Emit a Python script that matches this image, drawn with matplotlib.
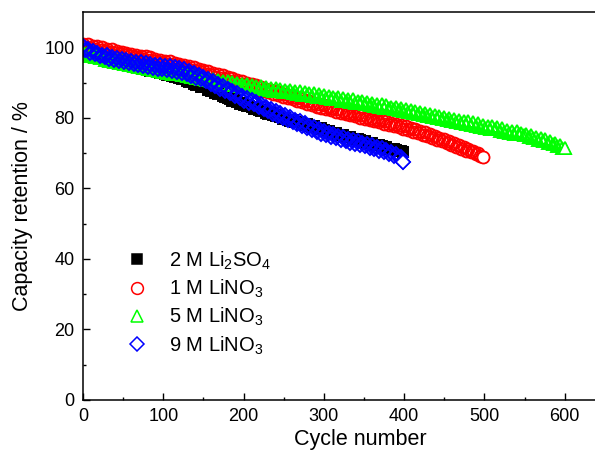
import matplotlib
matplotlib.use('Agg')
import matplotlib.pyplot as plt
import numpy as np

plt.rcParams['font.family'] = ['Liberation Sans', 'DejaVu Sans']
plt.rcParams['mathtext.default'] = 'regular'

# capacity retention (%) read every 3 cycles
step = 3
li2so4_2m = [
    99.0, 98.6, 98.1, 98.4, 97.8, 97.5, 97.9, 97.2, 97.0, 97.4,
    96.9, 96.6, 96.9, 96.2, 96.0, 96.3, 95.6, 95.4, 95.7, 95.0,
    94.9, 95.1, 94.5, 94.3, 94.6, 93.9, 93.7, 94.0, 93.4, 93.2,
    93.4, 92.9, 92.7, 93.0, 92.4, 92.2, 92.4, 91.8, 91.6, 91.8,
    91.3, 91.0, 91.2, 90.5, 90.2, 90.4, 89.7, 89.4, 89.5, 88.8,
    88.6, 88.7, 88.0, 87.6, 87.8, 87.1, 86.8, 86.9, 86.2, 85.8,
    85.7, 85.2, 84.8, 85.0, 84.4, 84.0, 84.2, 83.6, 83.3, 83.4,
    83.0, 82.6, 82.8, 82.2, 81.9, 82.1, 81.5, 81.2, 81.4, 80.8,
    80.5, 80.7, 80.1, 79.8, 80.0, 79.5, 79.2, 79.4, 78.9, 78.7,
    78.8, 78.3, 78.0, 78.2, 77.7, 77.4, 77.6, 77.1, 76.8, 77.0,
    76.5, 76.2, 76.4, 75.8, 75.6, 75.8, 75.2, 75.0, 75.2, 74.7,
    74.5, 74.7, 74.1, 73.9, 74.1, 73.6, 73.4, 73.5, 73.0, 72.8,
    72.9, 72.4, 72.2, 72.4, 71.9, 71.7, 71.8, 71.3, 71.1, 71.2,
    70.8, 70.6, 70.7, 70.3]
lino3_1m = [
    101.0, 100.2, 100.9, 99.8, 100.5, 99.6, 100.3, 99.2, 100.0, 99.0,
    99.6, 98.7, 99.4, 98.3, 99.0, 98.0, 98.8, 97.8, 98.5, 97.5,
    98.2, 97.2, 97.9, 97.0, 97.6, 96.6, 97.4, 96.4, 97.1, 96.1,
    96.8, 95.8, 96.5, 95.5, 96.2, 95.2, 96.0, 95.0, 95.6, 94.7,
    95.3, 94.3, 95.0, 94.0, 94.6, 93.6, 94.3, 93.2, 93.9, 92.9,
    93.6, 92.5, 93.2, 92.1, 92.8, 91.7, 92.4, 91.3, 92.0, 90.9,
    91.6, 90.5, 91.2, 90.1, 90.8, 89.7, 90.4, 89.3, 89.9, 88.9,
    89.6, 88.5, 89.2, 88.0, 88.8, 87.6, 88.3, 87.2, 87.9, 86.8,
    87.5, 86.4, 87.1, 86.0, 86.7, 85.6, 86.3, 85.2, 85.9, 84.8,
    85.5, 84.4, 85.1, 84.0, 84.7, 83.6, 84.3, 83.2, 83.9, 82.8,
    83.5, 82.5, 83.1, 82.1, 82.8, 81.7, 82.4, 81.4, 82.0, 81.0,
    81.7, 80.7, 81.4, 80.4, 81.0, 80.0, 80.7, 79.7, 80.3, 79.4,
    80.0, 79.0, 79.7, 78.7, 79.3, 78.3, 79.0, 78.0, 78.6, 77.6,
    78.3, 77.3, 77.9, 76.9, 77.6, 76.5, 77.2, 76.1, 76.8, 75.7,
    76.4, 75.2, 75.9, 74.8, 75.4, 74.3, 74.9, 73.8, 74.4, 73.3,
    73.9, 72.8, 73.4, 72.2, 72.9, 71.7, 72.3, 71.2, 71.8, 70.7,
    71.2, 70.2, 70.6, 69.6, 70.0, 69.2, 68.8]
lino3_5m = [
    98.8, 98.0, 98.6, 97.6, 98.1, 97.2, 97.7, 96.9, 97.3, 96.5,
    97.0, 96.1, 96.6, 95.8, 96.3, 95.5, 96.0, 95.2, 95.6, 94.9,
    95.4, 94.6, 95.1, 94.3, 94.8, 94.0, 94.5, 93.8, 94.2, 93.5,
    94.0, 93.2, 93.8, 93.0, 93.5, 92.7, 93.3, 92.5, 93.0, 92.3,
    92.8, 92.0, 92.6, 91.8, 92.3, 91.5, 92.0, 91.2, 91.7, 90.9,
    91.5, 90.7, 91.2, 90.4, 90.9, 90.1, 90.6, 89.7, 90.3, 89.4,
    90.3, 89.4, 90.1, 89.2, 89.9, 89.1, 89.7, 88.9, 89.5, 88.7,
    89.3, 88.4, 89.1, 88.2, 88.9, 88.1, 88.7, 87.9, 88.5, 87.7,
    88.4, 87.5, 88.2, 87.4, 88.0, 87.2, 87.8, 87.0, 87.6, 86.8,
    87.5, 86.6, 87.3, 86.4, 87.1, 86.2, 86.9, 86.0, 86.7, 85.8,
    86.5, 85.6, 86.3, 85.4, 86.0, 85.2, 85.8, 84.9, 85.5, 84.7,
    85.4, 84.5, 85.2, 84.3, 84.9, 84.1, 84.7, 83.8, 84.4, 83.6,
    84.3, 83.4, 84.0, 83.2, 83.8, 82.9, 83.5, 82.7, 83.2, 82.4,
    83.1, 82.2, 82.8, 81.9, 82.5, 81.6, 82.2, 81.3, 81.8, 81.0,
    81.6, 80.7, 81.3, 80.4, 81.0, 80.2, 80.7, 79.9, 80.4, 79.6,
    80.3, 79.4, 80.0, 79.1, 79.7, 78.9, 79.4, 78.6, 79.1, 78.3,
    79.0, 78.1, 78.7, 77.8, 78.4, 77.5, 78.1, 77.2, 77.7, 76.9,
    77.6, 76.7, 77.3, 76.4, 77.0, 76.1, 76.6, 75.8, 76.3, 75.5,
    76.2, 75.3, 75.8, 75.0, 75.5, 74.6, 75.1, 74.3, 74.7, 73.8,
    74.4, 73.4, 73.9, 73.0, 73.4, 72.5, 72.9, 72.0, 72.4, 71.5,
    71.5]
lino3_9m = [
    100.3, 99.2, 99.6, 98.5, 98.9, 98.0, 98.4, 97.5, 97.9, 97.1,
    97.7, 96.7, 97.3, 96.4, 96.9, 96.0, 96.7, 95.7, 96.4, 95.5,
    96.2, 95.2, 95.9, 94.9, 95.7, 94.7, 95.4, 94.4, 95.2, 94.2,
    95.0, 93.9, 94.9, 93.8, 94.8, 93.6, 94.6, 93.4, 94.4, 93.1,
    94.1, 92.8, 93.7, 92.4, 93.2, 91.9, 92.7, 91.4, 92.2, 90.9,
    91.7, 90.3, 91.0, 89.6, 90.3, 88.9, 89.6, 88.2, 88.9, 87.6,
    88.3, 86.9, 87.6, 86.3, 86.9, 85.6, 86.3, 84.9, 85.6, 84.3,
    85.1, 83.8, 84.4, 83.1, 83.8, 82.5, 83.1, 81.8, 82.4, 81.2,
    81.9, 80.6, 81.3, 80.0, 80.7, 79.4, 80.1, 78.8, 79.5, 78.3,
    79.0, 77.7, 78.4, 77.1, 77.8, 76.6, 77.3, 76.0, 76.7, 75.5,
    76.3, 75.1, 75.8, 74.6, 75.4, 74.2, 74.9, 73.8, 74.5, 73.4,
    74.1, 73.0, 73.7, 72.6, 73.3, 72.2, 72.9, 71.9, 72.6, 71.5,
    72.2, 71.1, 71.8, 70.7, 71.4, 70.2, 70.9, 69.7, 70.4, 69.2,
    69.8, 68.7, 68.9, 67.5]

series = [
    (li2so4_2m, '2 M Li$_2$SO$_4$', 's', 'black', 'black', 7),
    (lino3_1m, '1 M LiNO$_3$', 'o', '#ff0000', 'none', 8.5),
    (lino3_5m, '5 M LiNO$_3$', '^', '#00ff00', 'none', 9),
    (lino3_9m, '9 M LiNO$_3$', 'D', '#0000ff', 'none', 7.5),
]

fig = plt.figure(figsize=(5.95, 4.51), dpi=100)
ax = fig.add_axes([0.1395, 0.1131, 0.931, 0.8603])

for vals, label, marker, color, face, ms in series:
    cycles = np.arange(len(vals)) * step
    ax.plot(cycles, vals, linestyle='none', marker=marker, color=color,
            markerfacecolor=face, markeredgecolor=color, markersize=ms,
            markeredgewidth=1.4, label=label)
    # last point sits on top with an opaque face
    last_face = color if face != 'none' else 'white'
    ax.plot(cycles[-1:], vals[-1:], linestyle='none', marker=marker,
            markerfacecolor=last_face, markeredgecolor=color, markersize=ms,
            markeredgewidth=1.1)

ax.set_xlim(0, 690)
ax.set_ylim(0, 110)
ax.set_xticks([0, 100, 200, 300, 400, 500, 600])
ax.set_xticks(np.arange(50, 690, 100), minor=True)
ax.set_yticks([0, 20, 40, 60, 80, 100])
ax.set_yticks(np.arange(10, 110, 20), minor=True)
ax.tick_params(which='major', direction='in', length=5, width=1, labelsize=13, pad=6)
ax.tick_params(which='minor', direction='in', length=2.5, width=1)
for s in ax.spines.values():
    s.set_linewidth(1.1)

ax.set_xlabel('Cycle number', fontsize=15.5, labelpad=3)
ax.set_ylabel('Capacity retention / %', fontsize=15.5, labelpad=8)

handles, labels = ax.get_legend_handles_labels()
leg = ax.legend(handles, labels, loc='upper left', bbox_to_anchor=(0.20, 0.465),
                bbox_transform=fig.transFigure, frameon=False, fontsize=14.5,
                handlelength=1.0, handletextpad=1.1, labelspacing=0.3, borderaxespad=0)
for h in leg.legend_handles:
    h.set_markeredgewidth(1.1)

plt.savefig('out.png', dpi=100)
